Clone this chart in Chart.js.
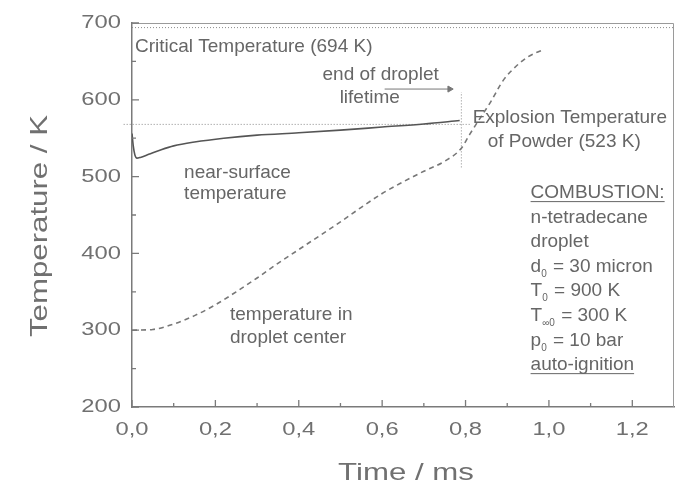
<!DOCTYPE html>
<html>
<head>
<meta charset="utf-8">
<script src="https://cdn.jsdelivr.net/npm/chart.js@4/dist/chart.umd.min.js"></script>
<style>
	html, body { margin: 0; background: #fff; }
</style>
</head>
<body>
<canvas id="chart" width="680" height="490"></canvas>
<script>
// near-surface temperature (solid)
const surfaceTime = [0, 0.003, 0.007, 0.012, 0.02, 0.04, 0.07, 0.1, 0.15, 0.22, 0.3, 0.4, 0.5, 0.6, 0.7, 0.786];
const surfaceTemp = [556, 540, 528, 524, 525, 529, 535, 540, 545, 550, 554, 557, 560.5, 564.5, 568.5, 573];

// temperature in droplet center (dashed)
const centerTime = [0, 0.05, 0.1, 0.15, 0.2, 0.25, 0.3, 0.35, 0.4, 0.45, 0.5, 0.55, 0.6, 0.65, 0.7, 0.75, 0.79, 0.81, 0.83, 0.86, 0.89, 0.92, 0.95, 0.985];
const centerTemp = [300, 301, 308, 319, 333, 350, 368, 387, 405, 423, 441, 460, 478, 493, 507, 520, 537, 555, 572, 597, 625, 643, 656, 665];

// reference lines
const explosionTime = [-0.02, 0.81];
const explosionTemp = [568, 568];
const criticalTime = [0, 1.3];
const criticalTemp = [694, 694];
const lifetimeTime = [0.79, 0.79];
const lifetimeTemp = [512, 610];
const arrowTime = [0.606, 0.762];
const arrowTemp = [614, 614];

const xRange = [0, 1.3];
const yRange = [200, 700];

const FONT = '"Liberation Sans", Arial, sans-serif';
const AXIS = '#7a7a7a';
const TEXT = '#666';

const pts = (xs, ys) => xs.map((x, i) => ({ x, y: ys[i] }));

// text notes, placed in data coordinates
const notes = [
	{ x: 0.007, y: 662, text: 'Critical Temperature (694 K)' },
	{ x: 0.457, y: 626, text: 'end of droplet' },
	{ x: 0.498, y: 596, text: 'lifetime' },
	{ x: 0.817, y: 570, text: 'Explosion Temperature' },
	{ x: 0.853, y: 538.5, text: 'of Powder (523 K)' },
	{ x: 0.125, y: 498, text: 'near-surface' },
	{ x: 0.125, y: 471, text: 'temperature' },
	{ x: 0.235, y: 313, text: 'temperature in' },
	{ x: 0.235, y: 283, text: 'droplet center' },
];

const boxX = 0.956;
const boxLines = [
	{ y: 472, parts: [['COMBUSTION:']], underline: true },
	{ y: 440, parts: [['n-tetradecane']] },
	{ y: 408, parts: [['droplet']] },
	{ y: 376, parts: [['d'], ['0', true], [' = 30 micron']] },
	{ y: 344, parts: [['T'], ['0', true], [' = 900 K']] },
	{ y: 312, parts: [['T'], ['\u221E0', true], [' = 300 K']] },
	{ y: 280, parts: [['p'], ['0', true], [' = 10 bar']] },
	{ y: 248, parts: [['auto-ignition']], underline: true },
];

function drawRich(ctx, x, y, parts, underline) {
	let cx = x;
	for (const [s, sub] of parts) {
		ctx.font = (sub ? '10px ' : '19px ') + FONT;
		ctx.fillText(s, cx, sub ? y + 5 : y);
		cx += ctx.measureText(s).width + (sub ? 1 : 0);
	}
	if (underline) {
		ctx.fillRect(x, y + 3, cx - x, 1);
	}
}

const decor = {
	id: 'decor',
	afterDraw(chart) {
		const { ctx, chartArea: a, scales: { x, y } } = chart;
		ctx.save();

		// frame top / right
		ctx.strokeStyle = '#9a9a9a';
		ctx.lineWidth = 1;
		ctx.beginPath();
		ctx.moveTo(a.left, a.top + 0.5);
		ctx.lineTo(a.right - 0.5, a.top + 0.5);
		ctx.lineTo(a.right - 0.5, a.bottom);
		ctx.stroke();

		// inward ticks, major + minor
		ctx.strokeStyle = AXIS;
		ctx.lineWidth = 1.3;
		ctx.beginPath();
		y.ticks.forEach((t, i) => {
			const py = y.getPixelForValue(t.value);
			ctx.moveTo(a.left, py); ctx.lineTo(a.left + 7, py);
			if (i < y.ticks.length - 1) {
				const pm = y.getPixelForValue((t.value + y.ticks[i + 1].value) / 2);
				ctx.moveTo(a.left, pm); ctx.lineTo(a.left + 4, pm);
			}
		});
		x.ticks.forEach((t, i) => {
			const px = x.getPixelForValue(t.value);
			ctx.moveTo(px, a.bottom); ctx.lineTo(px, a.bottom - 7);
			const next = i < x.ticks.length - 1 ? x.ticks[i + 1].value : t.value + 0.2;
			if (next <= x.max) {
				const pm = x.getPixelForValue((t.value + next) / 2);
				ctx.moveTo(pm, a.bottom); ctx.lineTo(pm, a.bottom - 4);
			}
		});
		ctx.stroke();

		// tick labels (wide face)
		ctx.fillStyle = '#707070';
		ctx.font = '19px ' + FONT;
		ctx.textBaseline = 'middle';
		y.ticks.forEach((t) => {
			ctx.save();
			ctx.translate(a.left - 11, y.getPixelForValue(t.value));
			ctx.scale(1.25, 1);
			ctx.textAlign = 'right';
			ctx.fillText(String(t.value), 0, 0);
			ctx.restore();
		});
		ctx.textBaseline = 'alphabetic';
		x.ticks.forEach((t) => {
			ctx.save();
			ctx.translate(x.getPixelForValue(t.value), a.bottom + 28);
			ctx.scale(1.25, 1);
			ctx.textAlign = 'center';
			ctx.fillText(t.value.toFixed(1).replace('.', ','), 0, 0);
			ctx.restore();
		});

		// axis titles
		ctx.font = '24px ' + FONT;
		ctx.textAlign = 'center';
		ctx.save();
		ctx.translate(406, 480);
		ctx.scale(1.3, 1);
		ctx.fillText('Time / ms', 0, 0);
		ctx.restore();
		ctx.save();
		ctx.translate(47, 226);
		ctx.rotate(-Math.PI / 2);
		ctx.scale(1.3, 1);
		ctx.fillText('Temperature / K', 0, 0);
		ctx.restore();

		// notes
		ctx.fillStyle = TEXT;
		ctx.textAlign = 'left';
		ctx.font = '19px ' + FONT;
		for (const n of notes) {
			ctx.fillText(n.text, x.getPixelForValue(n.x), y.getPixelForValue(n.y));
		}
		const bx = x.getPixelForValue(boxX);
		for (const l of boxLines) {
			drawRich(ctx, bx, y.getPixelForValue(l.y), l.parts, l.underline);
		}

		ctx.restore();
	},
};

const dotted = { borderColor: '#8a8a8a', borderWidth: 1, borderDash: [1, 2] };

new Chart(document.getElementById('chart'), {
	type: 'scatter',
	data: {
		datasets: [
			{ data: pts(surfaceTime, surfaceTemp), borderColor: '#555', borderWidth: 1.6, cubicInterpolationMode: 'monotone' },
			{ data: pts(centerTime, centerTemp), borderColor: '#777', borderWidth: 1.6, borderDash: [5, 4], cubicInterpolationMode: 'monotone' },
			{ data: pts(explosionTime, explosionTemp), ...dotted, clip: false },
			{ data: pts(criticalTime, criticalTemp), ...dotted },
			{ data: pts(lifetimeTime, lifetimeTemp), ...dotted },
			{
				data: pts(arrowTime, arrowTemp),
				borderColor: '#777',
				borderWidth: 1,
				pointRadius: [0, 3.5],
				pointStyle: 'triangle',
				rotation: 90,
				pointBackgroundColor: '#777',
				pointBorderColor: '#777',
			},
		].map((d) => ({ showLine: true, ...d })),
	},
	options: {
		responsive: false,
		animation: false,
		devicePixelRatio: 1,
		layout: { padding: { top: 23, right: 6 } },
		elements: { point: { radius: 0 } },
		plugins: { legend: { display: false }, tooltip: { enabled: false } },
		scales: {
			x: {
				type: 'linear',
				min: xRange[0],
				max: xRange[1],
				ticks: { display: false, stepSize: 0.2, includeBounds: false },
				grid: { display: false },
				border: { display: true, color: AXIS, width: 1.5 },
				afterFit: (s) => { s.height = 83; },
			},
			y: {
				min: yRange[0],
				max: yRange[1],
				ticks: { display: false, stepSize: 100 },
				grid: { display: false },
				border: { display: true, color: AXIS, width: 1.5 },
				afterFit: (s) => { s.width = 132; },
			},
		},
	},
	plugins: [decor],
});
</script>
</body>
</html>
